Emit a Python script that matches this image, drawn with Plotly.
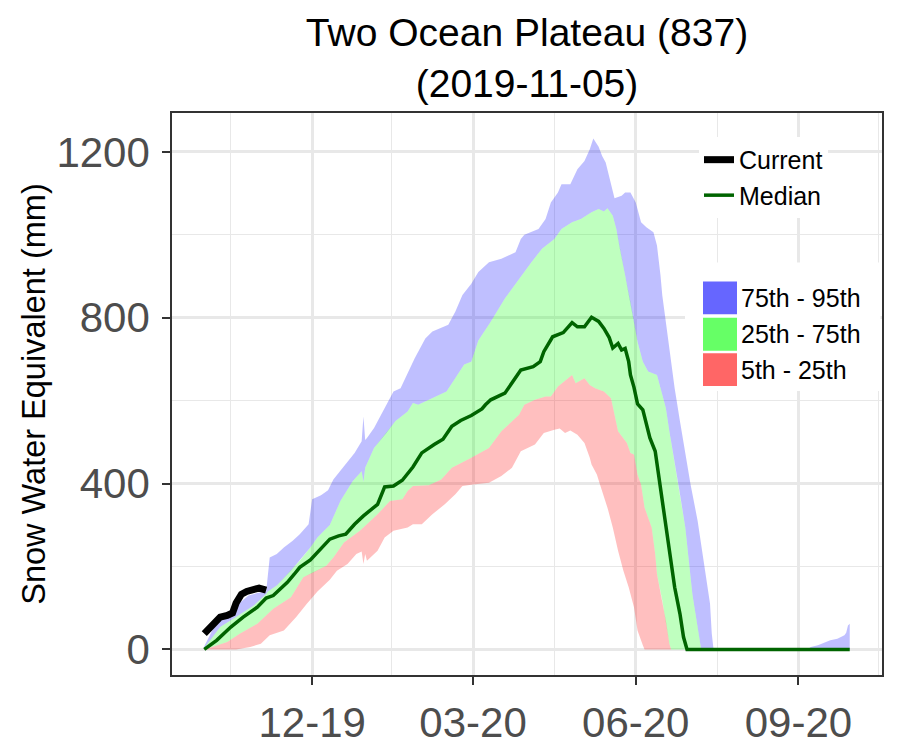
import pandas as pd
import plotly.graph_objects as go

# ---------------- data (day offsets from 2019-10-01, SWE in mm) ----------------
BASE_DATE = "2019-10-01"

current_days = [0, 3, 5, 9, 13, 16, 18, 21, 24, 27, 31, 35]
current_swe = [38, 52, 61, 78, 82, 88, 112, 133, 140, 143, 148, 143]

median_days = [0, 7, 15, 22, 30, 35, 39, 41, 47, 51, 54, 60, 66, 71, 76, 80, 85, 90, 98, 102,
               107, 112, 118, 123, 130, 135, 140, 145, 151, 157, 159, 162, 170, 176, 179, 186,
               190, 192, 197, 203, 208, 211, 215, 219, 223, 226, 229, 231, 234, 236, 238, 240,
               241, 243, 245, 248, 252, 255, 258, 261, 264, 266, 269, 271, 273, 365]
median_swe = [0, 22, 54, 78, 102, 124, 130, 138, 162, 182, 198, 216, 244, 266, 274, 278, 302, 322, 350, 392,
              394, 408, 440, 474, 494, 507, 538, 552, 564, 580, 590, 602, 618, 654, 674, 682,
              694, 718, 754, 764, 788, 778, 778, 801, 791, 774, 752, 727, 738, 722, 726, 694,
              662, 632, 592, 578, 510, 478, 390, 310, 222, 150, 86, 30, 0, 0]

p95_days = [0, 5, 10, 15, 20, 25, 30, 35, 37, 41, 45, 50, 54, 59, 61, 66, 70, 73, 79, 85,
            89, 90, 91, 92, 96, 102, 107, 111, 119, 125, 129, 138, 142, 146, 151, 155, 161, 168,
            176, 179, 181, 189, 193, 196, 200, 202, 207, 211, 215, 218, 220, 223, 225, 227, 230,
            232, 236, 238, 241, 244, 247, 250, 254, 256, 258, 259, 261, 263, 266, 269, 272, 275,
            279, 283, 286, 287, 288, 341, 343, 347, 352, 354, 358, 362, 363, 364, 365]
p95_swe = [8, 50, 72, 84, 112, 130, 136, 140, 222, 230, 246, 262, 278, 302, 362, 372, 384, 410, 442, 474,
           502, 562, 505, 510, 534, 582, 622, 630, 702, 750, 767, 783, 815, 855, 882, 910, 934, 942,
           958, 990, 1000, 1014, 1038, 1078, 1102, 1122, 1122, 1158, 1178, 1206, 1232, 1212, 1190, 1174, 1126,
           1088, 1094, 1102, 1102, 1078, 1030, 1018, 1006, 974, 902, 854, 790, 726, 630, 550, 470, 398,
           310, 200, 110, 38, 0, 0, 6, 10, 18, 22, 26, 34, 40, 58, 62]

p75_days = [0, 4, 9, 18, 28, 35, 36, 41, 49, 54, 60, 64, 71, 77, 84, 89, 90, 91, 96, 103,
            108, 115, 118, 121, 129, 137, 147, 151, 155, 157, 162, 170, 178, 185, 191, 198, 202,
            208, 213, 219, 223, 226, 228, 231, 233, 235, 238, 241, 243, 245, 248, 251, 256, 258,
            261, 263, 266, 269, 272, 274, 276, 279, 281, 365]
p75_swe = [4, 26, 54, 78, 106, 134, 140, 154, 190, 214, 246, 270, 300, 358, 406, 430, 404, 438, 486, 522,
           550, 574, 594, 590, 606, 622, 687, 694, 745, 758, 790, 846, 894, 934, 966, 990, 1014,
           1030, 1038, 1054, 1062, 1056, 1064, 1046, 1014, 966, 902, 838, 790, 742, 694, 670, 662, 630,
           582, 526, 446, 374, 294, 214, 134, 54, 0, 0]

p25_days = [0, 13, 20, 30, 39, 49, 56, 62, 69, 73, 79, 88, 98, 105, 112, 115, 118, 127, 134, 140,
            151, 161, 168, 178, 181, 187, 193, 196, 200, 208, 210, 215, 218, 221, 226, 230, 234,
            239, 241, 243, 245, 247, 249, 253, 255, 256, 259, 261, 263, 264, 365]
p25_swe = [0, 18, 38, 62, 98, 126, 174, 186, 202, 222, 258, 286, 326, 358, 362, 382, 394, 396, 410, 438,
           462, 486, 526, 566, 590, 602, 610, 610, 634, 662, 642, 654, 638, 630, 622, 606, 526,
           498, 474, 470, 422, 398, 342, 294, 230, 182, 118, 70, 14, 0, 0]

p5_days = [0, 18, 26, 32, 37, 45, 52, 58, 64, 71, 75, 81, 86, 89, 90, 91, 92, 98, 102, 107,
           115, 118, 123, 129, 136, 142, 146, 152, 161, 168, 174, 179, 187, 192, 198, 201, 204,
           207, 211, 215, 218, 219, 222, 224, 228, 231, 234, 237, 240, 243, 245, 248, 249, 365]
p5_swe = [0, 0, 6, 14, 34, 46, 78, 110, 140, 168, 190, 206, 230, 236, 206, 230, 214, 238, 270, 286,
          294, 302, 302, 326, 350, 374, 394, 398, 402, 418, 438, 478, 494, 522, 530, 533, 522,
          528, 518, 498, 462, 446, 422, 395, 342, 294, 238, 190, 150, 102, 46, 10, 0, 0]

x_tick_dates = ["2019-12-01", "2020-03-01", "2020-06-01", "2020-09-01"]
x_tick_text = ["12-19", "03-20", "06-20", "09-20"]
x_minor_dates = ["2019-10-16", "2020-01-15", "2020-04-16", "2020-07-17", "2020-10-16"]
y_ticks = [0, 400, 800, 1200]

band_names = ["75th - 95th", "25th - 75th", "5th - 25th"]
band_fill = ["rgba(0,0,255,0.25)", "rgba(0,255,0,0.25)", "rgba(255,0,0,0.25)"]
band_key = ["#6666FF", "#66FF66", "#FF6666"]

# ---------------- helpers ----------------
base = pd.Timestamp(BASE_DATE)


def to_dates(days):
    return [(base + pd.Timedelta(days=d)).strftime("%Y-%m-%d") for d in days]


def band(lo_d, lo_v, hi_d, hi_v, color, name):
    x = to_dates(hi_d) + to_dates(lo_d)[::-1]
    y = list(hi_v) + list(lo_v)[::-1]
    return go.Scatter(x=x, y=y, mode="lines", fill="toself", fillcolor=color,
                      line=dict(width=0), name=name, showlegend=False, hoverinfo="skip")


fig = go.Figure()
fig.add_trace(band(p75_days, p75_swe, p95_days, p95_swe, band_fill[0], band_names[0]))
fig.add_trace(band(p25_days, p25_swe, p75_days, p75_swe, band_fill[1], band_names[1]))
fig.add_trace(band(p5_days, p5_swe, p25_days, p25_swe, band_fill[2], band_names[2]))

fig.add_trace(go.Scatter(x=to_dates(current_days), y=current_swe, mode="lines", name="Current",
                         line=dict(color="black", width=7), legend="legend"))
fig.add_trace(go.Scatter(x=to_dates(median_days), y=median_swe, mode="lines", name="Median",
                         line=dict(color="#006400", width=3.5), legend="legend"))

# ---------------- layout ----------------
# the page body adds an 8px offset, so the figure is laid out 8px up/left
OFF = 8
W, H = 900, 750
PL, PT, PW, PH = 172, 113, 710, 564      # plot panel in screen pixels
L, T = PL - OFF, PT - OFF
R, B = W - L - PW, H - T - PH


def xp(px):
    return (px - PL) / PW


def yp(py):
    return (PT + PH - py) / PH


x_start = base - pd.Timedelta(hours=18.25 * 24)
x_end = base + pd.Timedelta(days=365) + pd.Timedelta(hours=18.25 * 24)
ymax = max(p95_swe)
ypad = 0.05 * ymax

grid = "#E8E8E8"
fig.update_layout(
    width=W, height=H,
    margin=dict(l=L, r=R, t=T, b=B),
    paper_bgcolor="white", plot_bgcolor="white",
    font=dict(family="Liberation Sans, Arial, sans-serif", color="black"),
    title=dict(text="Two Ocean Plateau (837)<br>(2019-11-05)", x=0.5, xref="paper",
               xanchor="center", y=1 - 38 / H, yref="container", yanchor="middle",
               font=dict(size=39, color="black")),
    xaxis=dict(type="date", range=[x_start, x_end], tickvals=x_tick_dates, ticktext=x_tick_text,
               showgrid=True, gridcolor=grid, gridwidth=2.6,
               minor=dict(tickvals=x_minor_dates, showgrid=True, gridcolor=grid, gridwidth=1.3),
               ticks="outside", ticklen=8, tickwidth=2, tickcolor="#333333",
               tickfont=dict(size=42, color="#4D4D4D"), ticklabelstandoff=2,
               showline=True, mirror=True, linecolor="#333333", linewidth=1.5, zeroline=False),
    yaxis=dict(range=[-ypad, ymax + ypad], tickvals=y_ticks,
               showgrid=True, gridcolor=grid, gridwidth=2.6,
               minor=dict(dtick=200, showgrid=True, gridcolor=grid, gridwidth=1.3),
               ticks="outside", ticklen=8, tickwidth=2, tickcolor="#333333",
               tickfont=dict(size=42, color="#4D4D4D"), ticklabelstandoff=4,
               title=dict(text="Snow Water Equivalent (mm)", font=dict(size=32.5, color="black"), standoff=1),
               showline=True, mirror=True, linecolor="#333333", linewidth=1.5, zeroline=False),
    legend=dict(x=xp(699), y=yp(137), xanchor="left", yanchor="top", xref="paper", yref="paper",
                bgcolor="white", borderwidth=0, font=dict(size=25, color="black"),
                itemwidth=30, traceorder="normal"),
    showlegend=True,
)

# second legend (fill bands) drawn as keys + labels
shapes = [dict(type="rect", xref="paper", yref="paper", x0=xp(685), x1=xp(880.5), y0=yp(392), y1=yp(263),
               fillcolor="white", line=dict(width=0), layer="above")]
annotations = []
rows = [(282, 315), (318.5, 351.5), (354, 387)]
for (top, bot), name, col in zip(rows, band_names, band_key):
    shapes.append(dict(type="rect", xref="paper", yref="paper", x0=xp(703), x1=xp(737),
                       y0=yp(bot), y1=yp(top), fillcolor=col, line=dict(width=0), layer="above"))
    annotations.append(dict(xref="paper", yref="paper", x=xp(739), y=yp((top + bot) / 2),
                            xanchor="left", yanchor="middle", text=name, showarrow=False,
                            font=dict(size=25, color="black")))
fig.update_layout(shapes=shapes, annotations=annotations)

fig.write_html("out.html")
